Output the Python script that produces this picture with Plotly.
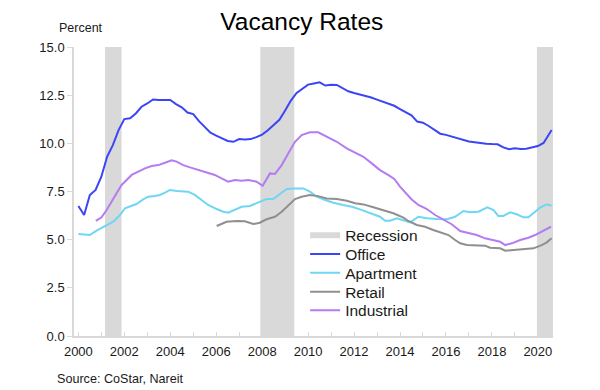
import plotly.graph_objects as go

# ---------------- data ----------------
office_x = [2000.0, 2000.25, 2000.5, 2000.75, 2001.0, 2001.25, 2001.5, 2001.75, 2002.0, 2002.25,
            2002.5, 2002.75, 2003.0, 2003.25, 2003.5, 2003.75, 2004.0, 2004.25, 2004.5, 2004.75,
            2005.0, 2005.25, 2005.5, 2005.75, 2006.0, 2006.25, 2006.5, 2006.75, 2007.0, 2007.25,
            2007.5, 2007.75, 2008.0, 2008.25, 2008.5, 2008.75, 2009.0, 2009.25, 2009.5, 2009.75,
            2010.0, 2010.25, 2010.5, 2010.75, 2011.0, 2011.25, 2011.5, 2011.75, 2012.0, 2012.25,
            2012.5, 2012.75, 2013.0, 2013.25, 2013.5, 2013.75, 2014.0, 2014.25, 2014.5, 2014.75,
            2015.0, 2015.25, 2015.5, 2015.75, 2016.0, 2016.25, 2016.5, 2016.75, 2017.0, 2017.25,
            2017.5, 2017.75, 2018.0, 2018.25, 2018.5, 2018.75, 2019.0, 2019.25, 2019.5, 2019.75,
            2020.0, 2020.25, 2020.6]
office_y = [6.75, 6.28, 7.32, 7.58, 8.27, 9.30, 9.91, 10.69, 11.26, 11.30,
            11.55, 11.90, 12.07, 12.28, 12.25, 12.25, 12.25, 12.04, 11.87, 11.60,
            11.52, 11.15, 10.85, 10.55, 10.40, 10.27, 10.12, 10.08, 10.22, 10.20,
            10.22, 10.32, 10.45, 10.68, 10.95, 11.22, 11.70, 12.22, 12.62, 12.85,
            13.05, 13.11, 13.17, 13.00, 13.04, 13.03, 12.87, 12.70, 12.61, 12.53,
            12.47, 12.38, 12.27, 12.17, 12.07, 11.95, 11.78, 11.60, 11.45, 11.13,
            11.07, 10.90, 10.72, 10.50, 10.44, 10.35, 10.25, 10.15, 10.10, 10.06,
            10.00, 9.98, 9.96, 9.95, 9.79, 9.69, 9.74, 9.70, 9.72, 9.78,
            9.86, 10.02, 10.69]

apartment_x = [2000.0, 2000.5, 2000.79, 2001.08, 2001.52, 2001.81, 2002.03, 2002.32, 2002.53, 2002.82,
               2003.04, 2003.33, 2003.55, 2003.77, 2003.99, 2004.28, 2004.56, 2004.78, 2005.07, 2005.37,
               2005.65, 2006.02, 2006.31, 2006.52, 2006.82, 2007.11, 2007.47, 2007.9, 2008.19, 2008.48,
               2008.78, 2009.07, 2009.43, 2009.79, 2010.08, 2010.37, 2010.74, 2011.1, 2011.53, 2011.9,
               2012.26, 2012.7, 2013.13, 2013.35, 2013.57, 2013.86, 2014.15, 2014.44, 2014.8, 2015.17,
               2015.6, 2016.04, 2016.4, 2016.76, 2017.05, 2017.41, 2017.8, 2018.07, 2018.28, 2018.5,
               2018.8, 2019.08, 2019.37, 2019.59, 2019.88, 2020.1, 2020.39, 2020.6]
apartment_y = [5.29, 5.24, 5.47, 5.67, 5.93, 6.28, 6.63, 6.76, 6.85, 7.09,
               7.23, 7.27, 7.32, 7.44, 7.58, 7.52, 7.49, 7.49, 7.32, 7.06,
               6.80, 6.59, 6.45, 6.40, 6.54, 6.71, 6.75, 6.97, 7.11, 7.11,
               7.37, 7.63, 7.66, 7.66, 7.49, 7.23, 7.06, 6.92, 6.80, 6.71,
               6.57, 6.37, 6.19, 5.98, 5.98, 6.11, 6.02, 5.90, 6.19, 6.11,
               6.07, 6.06, 6.19, 6.49, 6.42, 6.45, 6.68, 6.54, 6.23, 6.23,
               6.42, 6.32, 6.16, 6.16, 6.45, 6.66, 6.83, 6.76]

retail_x = [2006.02, 2006.45, 2006.89, 2007.25, 2007.61, 2007.9, 2008.19, 2008.56, 2008.85, 2009.14,
            2009.43, 2009.72, 2010.08, 2010.44, 2010.81, 2011.25, 2011.68, 2012.05, 2012.41, 2012.84,
            2013.28, 2013.71, 2014.15, 2014.36, 2014.73, 2015.09, 2015.45, 2015.74, 2016.11, 2016.4,
            2016.62, 2016.91, 2017.34, 2017.7, 2017.92, 2018.36, 2018.58, 2018.94, 2019.37, 2019.81,
            2020.17, 2020.39, 2020.6]
retail_y = [5.71, 5.93, 5.97, 5.95, 5.81, 5.88, 6.06, 6.19, 6.45, 6.80,
            7.11, 7.23, 7.32, 7.26, 7.14, 7.11, 7.02, 6.89, 6.83, 6.68,
            6.54, 6.37, 6.14, 5.97, 5.76, 5.67, 5.50, 5.38, 5.24, 4.98,
            4.81, 4.72, 4.69, 4.69, 4.58, 4.55, 4.43, 4.46, 4.50, 4.55,
            4.72, 4.86, 5.07]

industrial_x = [2000.76, 2001.01, 2001.23, 2001.45, 2001.66, 2001.88, 2002.1, 2002.32, 2002.61, 2002.9,
                2003.19, 2003.48, 2003.77, 2004.06, 2004.28, 2004.56, 2004.86, 2005.22, 2005.58, 2005.94,
                2006.23, 2006.52, 2006.82, 2007.11, 2007.4, 2007.76, 2008.02, 2008.34, 2008.56, 2008.85,
                2009.14, 2009.43, 2009.72, 2010.08, 2010.44, 2010.81, 2011.25, 2011.68, 2012.05, 2012.41,
                2012.77, 2013.13, 2013.5, 2013.75, 2014.0, 2014.25, 2014.5, 2014.8, 2015.17, 2015.53,
                2015.89, 2016.25, 2016.62, 2016.98, 2017.34, 2017.7, 2018.07, 2018.36, 2018.58, 2018.87,
                2019.23, 2019.59, 2019.88, 2020.24, 2020.57]
industrial_y = [5.98, 6.16, 6.54, 6.97, 7.40, 7.84, 8.10, 8.36, 8.53, 8.70,
                8.82, 8.87, 8.99, 9.12, 9.05, 8.87, 8.75, 8.61, 8.48, 8.36,
                8.18, 8.01, 8.10, 8.06, 8.10, 8.01, 7.80, 8.44, 8.41, 8.87,
                9.48, 10.08, 10.43, 10.57, 10.57, 10.34, 10.08, 9.74, 9.53, 9.30,
                8.96, 8.61, 8.35, 8.15, 7.75, 7.40, 7.10, 6.80, 6.59, 6.28,
                6.02, 5.80, 5.45, 5.33, 5.24, 5.07, 4.98, 4.89, 4.72, 4.81,
                4.98, 5.10, 5.24, 5.45, 5.67]

recession_start = [2001.16, 2007.92, 2019.96]
recession_end = [2001.88, 2009.40, 2020.66]

y_ticks = [0.0, 2.5, 5.0, 7.5, 10.0, 12.5, 15.0]
x_ticks = [2000, 2002, 2004, 2006, 2008, 2010, 2012, 2014, 2016, 2018, 2020]

# ---------------- styles ----------------
FONT = "Arial, Liberation Sans, sans-serif"
TXT = "#1a1a1a"
GRAY_LINE = "#d9d9d9"
colors = {
    "Office": "#3c45f5",
    "Apartment": "#6fd6f4",
    "Retail": "#8f8f8f",
    "Industrial": "#b47cf0",
}

fig = go.Figure()

# recession bands as one filled trace
rx, ry = [], []
for s, e in zip(recession_start, recession_end):
    rx += [s, s, e, e, s, None]
    ry += [y_ticks[0], y_ticks[-1], y_ticks[-1], y_ticks[0], y_ticks[0], None]
fig.add_trace(go.Scatter(x=rx, y=ry, fill="toself", mode="none", fillcolor=GRAY_LINE,
                         name="Recession", legend="legend", hoverinfo="skip"))

series = [
    ("Office", office_x, office_y, "legend2"),
    ("Apartment", apartment_x, apartment_y, "legend3"),
    ("Retail", retail_x, retail_y, "legend4"),
    ("Industrial", industrial_x, industrial_y, "legend5"),
]
for name, xs, ys, lg in series:
    fig.add_trace(go.Scatter(x=xs, y=ys, mode="lines", name=name, legend=lg,
                             line=dict(color=colors[name], width=2)))

# plot area geometry (pixels)
L, R, T, B = 74, 47.3, 47, 54
W, H = 600, 390
pw, ph = W - L - R, H - T - B


def px_to_paper_x(px):
    return (px - L) / pw


def px_to_paper_y(py):
    return (H - B - py) / ph


legend_common = dict(
    font=dict(family=FONT, size=15.5, color=TXT),
    bgcolor="rgba(0,0,0,0)",
    borderwidth=0,
    xanchor="left",
    yanchor="middle",
    itemwidth=30,
    tracegroupgap=0,
)
legend_rows = [235.7, 254.3, 273.3, 292.3, 310.7]
legend_keys = ["legend", "legend2", "legend3", "legend4", "legend5"]
layout_legends = {}
for key, row in zip(legend_keys, legend_rows):
    layout_legends[key] = dict(legend_common, x=px_to_paper_x(305), y=px_to_paper_y(row))

fig.update_layout(
    width=W,
    height=H,
    margin=dict(l=L, r=R, t=T, b=B),
    paper_bgcolor="white",
    plot_bgcolor="white",
    font=dict(family=FONT, size=13, color=TXT),
    showlegend=True,
    title=dict(text="Vacancy Rates", x=301.8 / W, xanchor="center", xref="container",
               y=1 - 21 / H, yanchor="middle", yref="container",
               font=dict(family=FONT, size=24.5, color="#000000")),
    xaxis=dict(
        range=[1999.81, 2020.66],
        tickvals=x_ticks,
        ticktext=[str(v) for v in x_ticks],
        ticks="inside",
        ticklen=4,
        tickcolor=GRAY_LINE,
        ticklabelstandoff=3,
        showline=True,
        linecolor=GRAY_LINE,
        linewidth=1.5,
        showgrid=False,
        zeroline=False,
        minor=dict(dtick=1, ticks="inside", ticklen=4, tickcolor=GRAY_LINE, showgrid=False),
        tickfont=dict(family=FONT, size=13, color=TXT),
    ),
    yaxis=dict(
        range=[0, 15],
        tickvals=y_ticks,
        ticktext=[f"{v:.1f}" for v in y_ticks],
        ticks="outside",
        ticklen=5,
        tickcolor=GRAY_LINE,
        showline=True,
        linecolor=GRAY_LINE,
        linewidth=1.5,
        showgrid=False,
        zeroline=False,
        tickfont=dict(family=FONT, size=13, color=TXT),
    ),
    annotations=[
        dict(text="Percent", x=px_to_paper_x(57.4), y=px_to_paper_y(28), xref="paper", yref="paper",
             xanchor="left", yanchor="middle", showarrow=False,
             font=dict(family=FONT, size=12.5, color=TXT)),
        dict(text="Source: CoStar, Nareit", x=px_to_paper_x(55), y=px_to_paper_y(378.5),
             xref="paper", yref="paper", xanchor="left", yanchor="middle", showarrow=False,
             font=dict(family=FONT, size=12.6, color=TXT)),
    ],
    **layout_legends,
)

fig.write_html("out.html",
               config={"displayModeBar": False},
               post_script="document.body.style.margin='0';document.body.style.overflow='hidden';")
